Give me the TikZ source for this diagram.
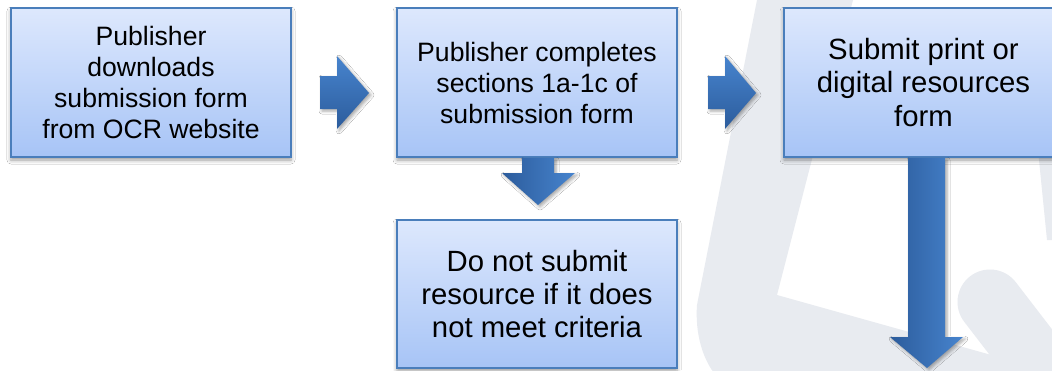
\documentclass[tikz,border=0pt]{standalone}
\usepackage{fontspec}
\setmainfont{Liberation Sans}
\usetikzlibrary{calc,shadows.blur}
\definecolor{wm}{HTML}{E8EBF0}
\definecolor{boxtop}{HTML}{DDE8FD}
\definecolor{boxbot}{HTML}{A7C4F6}
\definecolor{boxline}{HTML}{4A7EBB}
\definecolor{arrdark}{HTML}{2C5C9C}
\definecolor{arrlight}{HTML}{4784CE}
\tikzset{
  x=1pt, y=-1pt,
  stepbox/.style={rectangle, draw=boxline, line width=2pt, top color=boxtop, bottom color=boxbot,
    align=center, inner sep=0pt, text=black,
    blur shadow={shadow xshift=0pt, shadow yshift=-3pt, shadow blur radius=4pt, shadow opacity=40}},
  smalltext/.style={font=\fontsize{26.6}{31}\selectfont},
  bigtext/.style={font=\fontsize{29.3}{33.3}\selectfont},
  downarrow/.style={left color=arrdark, right color=arrlight,
    blur shadow={shadow xshift=2pt, shadow yshift=-2pt, shadow blur radius=3pt, shadow opacity=35}},
  rightarrow/.style={top color=arrlight, bottom color=arrdark,
    blur shadow={shadow xshift=2pt, shadow yshift=-2pt, shadow blur radius=3pt, shadow opacity=35}},
}
\begin{document}
\begin{tikzpicture}
\useasboundingbox (0,0) rectangle (1052,370);
\clip (0,0) rectangle (1052,370);
\fill[white] (0,0) rectangle (1052,370);
% watermark
\fill[wm] (757,0) -- (853,0) -- (777,295) -- (1052,372) -- (1052,380) -- (720,380)
  .. controls (702,362) and (695,332) .. (697,305) -- cycle;
\draw[wm, line width=65pt, line cap=round] (990,302) -- (1100,445);
\fill[wm] (1052,40) .. controls (1038,60) and (1034,95) .. (1036,130) -- (1047,240) -- (1052,240) -- cycle;
% boxes
\node[stepbox, smalltext, minimum width=280pt, minimum height=149pt] (b1) at (151,82.5)
  {Publisher\\downloads\\submission form\\from OCR website};
\node[stepbox, smalltext, minimum width=280pt, minimum height=149pt] (b2) at (537,82.5)
  {Publisher completes\\sections 1a-1c of\\submission form};
\node[stepbox, bigtext, minimum width=279pt, minimum height=149pt] (b3) at (923.5,82.5)
  {Submit print or\\digital resources\\form};
\node[stepbox, bigtext, minimum width=280pt, minimum height=148pt] (b4) at (537,294)
  {Do not submit\\resource if it does\\not meet criteria};
% block arrows
\coordinate (r1) at ($(b1.east)+(28,10)$);
\coordinate (r2) at ($(b2.east)+(30,10)$);
\shade[rightarrow] (r1) ++(0,-16.5) -- ++(17,0) -- ++(0,-20) -- ++(32,37) -- ++(-32,36) -- ++(0,-20) -- ++(-17,0) -- cycle;
\shade[rightarrow] (r2) ++(0,-16.5) -- ++(17,0) -- ++(0,-20) -- ++(31,37) -- ++(-31,36) -- ++(0,-20) -- ++(-17,0) -- cycle;
\shade[downarrow] ($(b2.south)+(-15,0)$) -- ++(32,0) -- ++(0,15) -- ++(21,0) -- ++(-37,32) -- ++(-36,-32) -- ++(20,0) -- cycle;
\shade[downarrow] ($(b3.south)+(-15.5,0)$) -- ++(37,0) -- ++(0,179) -- ++(18,0) -- ++(-36,31) -- ++(-37,-31) -- ++(18,0) -- cycle;
\end{tikzpicture}
\end{document}
